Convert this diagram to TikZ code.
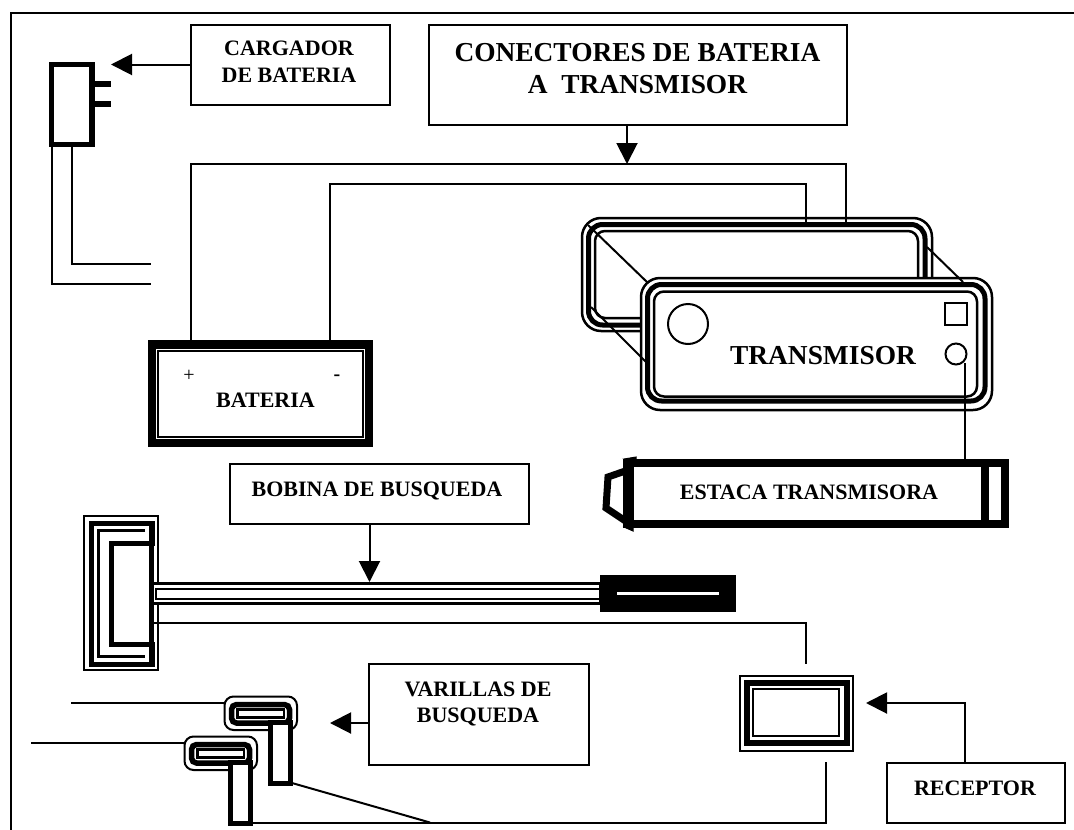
\documentclass[tikz,border=0pt]{standalone}
\usepackage{fontspec}
\setmainfont{Liberation Serif}
\usetikzlibrary{arrows.meta}
\tikzset{
  thinl/.style={draw=black,line width=2pt},
  boxn/.style={draw=black,line width=2pt,fill=white,inner sep=0pt,outer sep=0pt,rectangle},
  wire/.style={draw=black,line width=2pt,line join=miter},
  ptr/.style={draw=black,line width=2pt,-{Triangle[length=21pt,width=21pt]}},
  big/.style={font=\bfseries\fontsize{27.4}{32}\selectfont,anchor=base,inner sep=0pt},
  mid/.style={font=\bfseries\fontsize{22}{26}\selectfont,anchor=base,inner sep=0pt},
  ring/.style={draw=black,line width=5pt,rounded corners=#1},
  ringt/.style={draw=black,line width=2.5pt,rounded corners=#1},
}
\begin{document}
\begin{tikzpicture}[x=1pt,y=-1pt]
\useasboundingbox (0,0) rectangle (1074,830);
% frame
\draw[thinl] (10.5,830) -- (10.5,12.5) -- (1074,12.5);

% charger
\node[boxn,minimum width=199pt,minimum height=80pt] (carg) at (290.5,64.5) {};
\node[mid] (cargt1) at (289,55.7) {CARGADOR};
\node[mid] (cargt2) at (289,82) {DE BATERIA};
\coordinate (cargtip) at (111,64.5);
\draw[ptr] (carg.west) -- (cargtip);
\node[draw=black,line width=5.5pt,fill=white,inner sep=0pt,outer sep=0pt,minimum width=40.5pt,minimum height=80pt] (plug) at (71.75,104.5) {};
\fill (95,81) rectangle (111,87);
\fill (95,101) rectangle (111,107);
\coordinate (ca) at (151,284);
\coordinate (cb) at (151,264);
\draw[wire] (51.5,147) |- (ca);
\draw[wire] (72,147) |- (cb);

% connector box
\node[boxn,minimum width=418pt,minimum height=100pt] (conn) at (638,74.5) {};
\node[big] (connt1) at (637.5,61) {CONECTORES DE BATERIA};
\node[big] (connt2) at (637.5,93) {A\ \ TRANSMISOR};
\coordinate (connout) at (627,124.5);
\coordinate (conntip) at (627,164);
\draw[ptr] (connout) -- (conntip);

% transmitter back
\draw[ringt=19pt,fill=white] (582,218) rectangle (932,331);
\draw[ring=14pt] (588.5,224.5) rectangle (925,325);
\draw[ringt=10pt] (595,231) rectangle (918,318);

% transmitter front
\node[draw=black,line width=2.5pt,fill=white,rounded corners=19pt,inner sep=0pt,outer sep=0pt,minimum width=351pt,minimum height=132pt] (tx) at (816.5,344) {};
\draw[ring=14pt] (647.5,284.5) rectangle (985,401);
\draw[ringt=10pt] (654,291.5) rectangle (977,396.5);
\node[draw=black,line width=2pt,circle,inner sep=0pt,minimum size=40pt] (led) at (688,324) {};
\node[draw=black,line width=2pt,rectangle,inner sep=0pt,minimum size=22pt] (sq) at (956,314) {};
\node[draw=black,line width=2pt,circle,inner sep=0pt,minimum size=21pt] (port) at (956,354) {};
\node[big] (txt) at (823,364) {TRANSMISOR};
\draw[line width=2pt] (588,225) -- (648,283);
\draw[line width=2pt] (591,307) -- (647,363);
\draw[line width=2pt] (927,247) -- (963,282);

% battery
\node[draw=black,line width=8.5pt,fill=white,inner sep=0pt,outer sep=0pt,minimum width=217pt,minimum height=98.5pt] (bat) at (260.25,393.5) {};
\draw[line width=2.5pt] (158,351) rectangle (363,437);
\node[font=\fontsize{20}{24}\selectfont,inner sep=0pt] (plus) at (189,376) {+};
\node[font=\bfseries\fontsize{20}{24}\selectfont,inner sep=0pt] (minus) at (337,378) {-};
\node[mid] (batt) at (265.5,407) {BATERIA};
\draw[wire] (191,340) |- (846,164) -- (846,222);
\draw[wire] (330,340) |- (806,184) -- (806,222);

% stake
\draw[line width=7pt,line join=miter] (631,469) -- (608,477) -- (606,508) -- (630,524);
\draw[line width=1pt,fill=black] (624,459) -- (636,457) -- (636,465) -- cycle;
\draw[line width=1pt,fill=black] (624,527) -- (633,531) -- (633,524) -- cycle;
\node[draw=black,line width=7.5pt,fill=white,inner sep=0pt,outer sep=0pt,minimum width=378pt,minimum height=61pt] (stake) at (816,493.5) {};
\draw[line width=9pt] (629,460) -- (629,527);
\draw[line width=8pt] (985,460) -- (985,527);
\node[mid] (staket) at (809,499) {ESTACA TRANSMISORA};
\coordinate (stakein) at (965,460);
\coordinate (portout) at (965,363);
\draw[wire] (portout) -- (stakein);

% search-coil label
\node[boxn,minimum width=299pt,minimum height=60pt] (bob) at (379.5,493.5) {};
\node[mid] (bobt) at (377,496) {BOBINA DE BUSQUEDA};

% coil
\draw[line width=2pt] (84,516) rectangle (158,670);
\draw[line width=5pt] (91,523) rectangle (152,664);
\draw[line width=3pt] (145,530) -- (98,530) -- (98,656) -- (145,656);
\draw[line width=5pt,fill=white] (155,543) -- (111,543) -- (111,644) -- (155,644);
\draw[line width=5pt] (151.5,523) -- (151.5,664);
\draw[line width=3pt,fill=white] (152,583) -- (600,583) -- (600,603) -- (152,603) -- cycle;
\draw[line width=2pt] (156,589) rectangle (600,598.5);
\node[fill=black,inner sep=0pt,outer sep=0pt,minimum width=136pt,minimum height=37pt] (grip) at (668,593.5) {};
\fill[white] (617,591.5) rectangle (719,595);
\coordinate (bobout) at (369.5,523);
\coordinate (bobtip) at (369.5,582);
\draw[ptr] (bobout) -- (bobtip);

% receiver
\node[draw=black,line width=2pt,fill=white,inner sep=0pt,outer sep=0pt,minimum width=113.5pt,minimum height=75pt] (rec) at (796.25,713) {};
\draw[line width=5.5pt] (747,683) rectangle (847,743);
\draw[line width=2.5pt] (753,689) rectangle (839,736);
\coordinate (coilout) at (152,623);
\coordinate (recin) at (806,664);
\draw[wire] (coilout) -| (recin);

% receptor label
\node[boxn,minimum width=178pt,minimum height=60pt] (rcp) at (975.5,793) {};
\node[mid] (rcpt) at (975,795) {RECEPTOR};
\coordinate (rcpout) at (965,763);
\coordinate (rectip) at (866,703);
\draw[ptr] (rcpout) |- (rectip);

% rods
\foreach \dx/\dy in {0/0,-40/40}{
  \begin{scope}[shift={(\dx,\dy)}]
    \draw[line width=2pt,rounded corners=9pt,fill=white] (224.5,696.5) rectangle (297,730);
    \draw[line width=5.5pt,rounded corners=5pt] (231.5,704.5) rectangle (289.5,723);
    \draw[line width=2.5pt] (237.5,709.5) rectangle (284,717.5);
    \draw[line width=5pt,fill=white] (270.2,722) rectangle (290.8,783.7);
  \end{scope}
}
\coordinate (rodA) at (224,703);
\coordinate (rodAend) at (71,703);
\coordinate (rodB) at (184,743);
\coordinate (rodBend) at (31,743);
\draw[wire] (rodAend) -- (rodA);
\draw[wire] (rodBend) -- (rodB);
\coordinate (rodC) at (292,783);
\coordinate (rodD) at (430,822.5);
\draw[wire] (rodC) -- (rodD);
\coordinate (rodE) at (252,822.5);
\coordinate (recout) at (826,762);
\draw[wire] (rodE) -| (recout);

% varillas label
\node[boxn,minimum width=220pt,minimum height=101pt] (var) at (479,714.5) {};
\node[mid] (vart1) at (478,696) {VARILLAS DE};
\node[mid] (vart2) at (478,722) {BUSQUEDA};
\coordinate (vartip) at (330,723);
\draw[ptr] (var.west |- vartip) -- (vartip);
\end{tikzpicture}
\end{document}
